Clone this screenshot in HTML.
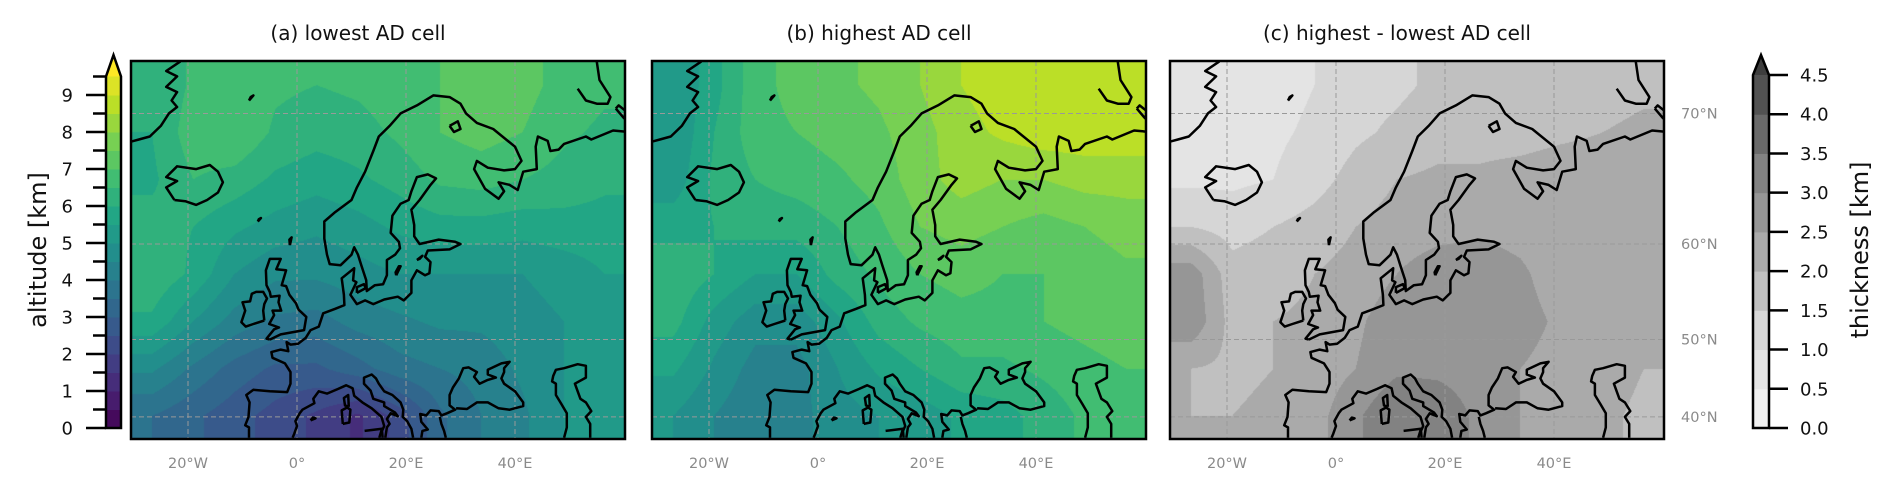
<!DOCTYPE html>
<html><head><meta charset="utf-8">
<style>
html,body{margin:0;padding:0;background:#fff;}
body{width:1892px;height:489px;position:relative;overflow:hidden;font-family:"DejaVu Sans","Liberation Sans",sans-serif;}
canvas{position:absolute;}
svg{position:absolute;left:0;top:0;font-family:"DejaVu Sans","Liberation Sans",sans-serif;}
</style></head>
<body>
<canvas id="ca" width="494" height="378" style="left:131px;top:61px"></canvas>
<canvas id="cb" width="494" height="378" style="left:652px;top:61px"></canvas>
<canvas id="cc" width="494" height="378" style="left:1170px;top:61px"></canvas>
<svg id="s" width="1892" height="489"></svg>
<script>
// ---- data: gridded field values (rows top->bottom, cols west->east) ----
const fieldA = [
[6.0,6.6,7.0,6.6,6.5,6.6,6.8,7.0,7.4,7.2,6.8,6.6],
[6.0,6.8,7.0,6.4,6.2,6.3,6.6,7.0,7.2,7.0,6.6,6.4],
[5.9,6.5,6.3,5.9,5.7,5.9,6.2,6.6,6.7,6.5,6.3,6.1],
[6.2,6.0,5.6,5.3,5.1,5.3,5.6,5.8,5.8,5.7,5.8,5.8],
[6.4,5.9,5.0,4.6,4.6,4.8,5.0,5.0,5.0,5.0,5.2,5.5],
[5.9,5.0,4.3,3.9,3.8,4.2,4.4,4.6,4.6,4.8,5.0,5.4],
[4.6,3.9,3.3,2.9,2.9,3.3,3.8,4.0,4.2,4.6,5.0,5.4],
[3.5,3.1,2.7,2.3,1.9,1.4,2.2,3.4,4.0,4.4,5.0,5.2]];
const fieldB = [
[5.0,5.8,6.8,7.2,7.4,7.6,8.0,8.5,8.8,8.8,8.8,8.8],
[5.0,6.0,6.8,7.0,7.2,7.4,7.8,8.3,8.6,8.8,8.8,8.8],
[5.2,6.1,6.5,6.7,6.9,7.2,7.8,8.2,8.0,8.0,8.2,8.2],
[5.8,6.0,6.2,6.2,6.5,6.9,7.5,7.7,7.5,7.3,7.5,7.7],
[6.4,6.0,5.5,5.5,6.2,6.6,7.0,7.2,7.0,7.0,7.2,7.4],
[6.2,5.3,4.7,4.7,5.4,6.2,6.6,6.8,6.8,7.0,7.2,7.4],
[5.6,4.9,4.3,4.3,5.0,5.6,6.0,6.4,6.4,6.6,6.8,7.0],
[5.0,4.5,4.1,4.3,4.8,5.0,5.2,5.6,5.8,6.2,6.6,6.8]];
const fieldC = [
[0.6,0.7,0.8,1.0,1.3,1.4,1.6,1.7,1.6,1.7,1.8,1.9],
[0.7,0.8,0.9,1.1,1.4,1.6,1.8,1.8,1.8,1.9,2.0,2.1],
[0.9,0.9,1.0,1.3,1.7,2.0,2.1,2.1,2.2,2.3,2.3,2.3],
[1.5,1.3,1.5,1.7,2.0,2.2,2.3,2.4,2.3,2.1,2.1,2.3],
[2.8,1.7,1.8,2.0,2.2,2.5,2.8,2.8,2.6,2.2,2.1,2.2],
[2.9,1.8,2.0,2.1,2.4,2.8,2.9,2.9,2.7,2.4,2.2,2.1],
[2.0,1.9,2.0,2.2,2.5,2.9,2.9,2.8,2.5,2.3,2.2,2.0],
[2.0,2.0,2.1,2.3,2.9,3.5,3.3,2.9,2.5,2.3,2.1,1.9]];
const altTicks = [0,1,2,3,4,5,6,7,8,9];
const thkTicks = ["0.0","0.5","1.0","1.5","2.0","2.5","3.0","3.5","4.0","4.5"];
const lonTicks = [-20,0,20,40];
const lonLabels = ["20°W","0°","20°E","40°E"];
const latTicks = [40,50,60,70];
const latLabels = ["40°N","50°N","60°N","70°N"];
const titles = ["(a) lowest AD cell","(b) highest AD cell","(c) highest - lowest AD cell"];

const coasts = [
"-8.8,37 -8.8,38.5 -9.5,38.8 -8.9,40 -8.7,42 -9.3,43 -8,43.7 -5,43.5 -1.8,43.4 -1.2,44.5 -1.2,46 -2.2,47.1 -4.5,47.8 -4.7,48.5 -3,48.8 -1.6,48.6 -1.9,49.7 -1.2,49.4 0.2,49.5 1.6,50.2 2.5,51.1 4,51.5 4.8,53 7,53.5 8.7,53.9 8.6,55 8.2,56.7 10.5,57.7 10.3,56.5 10.9,56.3 9.8,55 11,54 12.5,54.4 14,54 16,54.5 18.5,54.8 19.6,54.4 21,55.2 21,56.5 22,57.5 23.5,57 24.3,57.2 24.5,58.3 23.5,58.8 24,59.4 28,59.5 30,60 29,60.2 26,60.4 22.5,60 21.5,60.7 21.5,61.7 21,63 22.5,63.8 24.5,65 25.5,65.5 24,65.8 22,65.6 21,64.5 20.5,63.8 19,63.5 17.5,62.5 17.2,61 18.7,60.2 18.9,59.6 18,59 16.5,58.5 16.5,57 15.8,56.1 14.3,56 12.8,55.4 12.7,56.5 11.8,58 11.2,59 10.5,59.7 10,59 8,58 6,58.1 5.5,59 5,60.5 5,62 7,62.8 10,63.8 11,64.8 12.5,66 14,67.5 15,68.5 17,69.2 19,70 22,70.5 25,71.1 28,71 30,70.6 31,70 33,69.4 36,69 40,67.8 41.2,66.8 40,66.2 38,66.1 35,66.3 33,66.8 32.5,66.2 34.5,64.7 37,63.9 38,64.5 37,65.2 39,65 40.5,64.6 41.5,66 44,66.2 43.8,67.8 44.2,68.5 46,68.2 46.5,67.5 48,67.6 49,68 53,68.5 54,68.3 56,68.6 58,68.9 61,68.8",
"-0.8,37 -0.5,37.6 0,38.7 -0.3,39.4 0.5,40.5 1,41 3.2,41.9 3,42.5 4,43.5 5.5,43.2 7.5,43.8 9,44.3 10.2,43.9 10.5,42.9 12,42 13.7,41.2 15.5,40 16,38.7 15.6,38 15.7,37",
"16.2,37 16.5,38.5 17,39 16.5,39.7 17.2,40.5 18.5,40.1 18,40.6 16,41.5 16,42 14,42.5 13.5,43.6 12.3,44.5 12.3,45.3 13.7,45.7 14.5,45.2 15,44.5 16,43.5 17.5,43 19,42 19.5,41 19.4,40 20.2,39.4 21,38.3 21.3,37",
"22.8,37 23,38 24,38.2 22.8,39.3 22.6,40.4 23.7,40.2 24.5,40.9 26,40.8 26.5,40.2 27.5,40.5 29,41 28,41.6 28,43 28.6,44 29.7,45.2 30.5,46.5 31.5,46.6 33,46 32.5,45.4 33.5,44.5 35,45 36.5,45.3 35,45.7 35,46.3 37.5,47.1 39,47.3 38,46.5 38,46 37.5,45.2 38,44.5 40,43.5 41.5,42 41.5,41.5 39,41 37,41.2 35,42 33,42 31.2,41.1 29.2,41.2",
"26.2,40 26.5,39 27,38 27.3,37",
"49,37 49.5,38.5 49.5,40.5 48.5,41.8 47.5,43 47.5,44.5 46.8,44.8 47,45.5 47.5,46.3 49,46.5 51.5,47 53,46.8 53,45.3 51,44.5 52,42.5 53,42 54,40.8 53,40 53.8,39 53.8,37",
"-5,50 -3,50.6 1.3,51.1 1.7,52.6 0.3,53.4 -0.2,54.1 -1.4,55 -2,55.9 -2.8,56 -2,57.5 -3.8,57.6 -3,58.6 -5,58.6 -5.7,57.5 -5.6,56 -5,55.3 -4.8,54.8 -3.2,54.9 -3.4,54.2 -2.9,53.3 -4.5,53.3 -4.2,52.8 -5.1,51.8 -3.3,51.4 -4.2,51.2 -5.6,50.1 -5,50",
"-6,52.2 -6.2,53.3 -6,54 -5.5,54.6 -6.2,55.3 -7.5,55.3 -8.3,55.1 -8.6,54.3 -10,54.2 -9.5,53.3 -10.2,52 -9.4,51.5 -8,51.8 -6,52.2",
"-22.5,63.8 -24,64.8 -22,65.3 -24,65.6 -22,66.4 -18.5,66.2 -16,66.5 -14.5,66 -13.6,65.2 -14.5,64.4 -16.5,63.8 -18.5,63.4 -20.5,63.7 -22.5,63.8",
"-32,68 -29,68.3 -27,68.5 -25,69.2 -23.5,70 -22,70.4 -23,70.8 -22,71.3 -24,71.6 -22,72.2 -24,72.5 -21.5,73 -22,74.5",
"51.5,71.5 53,70.8 55,70.6 57,70.6 57.5,71 55.5,72 55,73 54.5,74.5",
"58.5,70.3 60,69.7 60.5,70.1 59,70.5 58.5,70.3",
"9.5,41.4 9.4,43 8.6,42.6 8.8,41.6 9.5,41.4",
"8.4,39 9.6,39.2 9.8,41 9.2,41.3 8.2,40.9 8.4,39",
"12.4,38 15.6,38.3 15.1,37",
"18.2,57 19,57.9 18.7,57.9 18.1,57.3 18.2,57",
"11,55.2 12.6,55.7 12.3,56.1 11,55.8 11,55.2",
"2.5,39.5 3.4,39.8 2.9,39.9 2.5,39.5",
"-8.8,70.8 -8,71.1 -8.5,71 -8.8,70.8",
"-7.2,62 -6.6,62.3 -7,62.2 -7.2,62",
"-1.3,59.9 -1,60.6 -1.4,60.4 -1.3,59.9",
"22,58.5 23,58.9 22.5,58.6 22,58.5",
"28,69.2 29.5,69.5 30,69 28.8,68.8 28,69.2"
];

// ---- projection (Mercator) ----
const PW=494, PH=378, PTOP=61;
const panelsX=[131,652,1170];
function merc(lat){return Math.log(Math.tan(Math.PI/4+lat*Math.PI/360));}
const K=312, X0=166, PXDEG=5.45;
function px(lon){return X0+lon*PXDEG;}
function py(lat){return 183-K*(merc(lat)-merc(60));}

// ---- colormaps ----
const vir=[[68,1,84],[72,36,117],[65,68,135],[53,95,141],[42,120,142],[33,145,140],[34,168,132],[68,191,112],[122,209,81],[189,223,38],[253,231,37]];
function viridis(t){t=Math.max(0,Math.min(1,t));const f=t*10,i=Math.min(9,Math.floor(f)),r=f-i;return vir[i].map((c,k)=>Math.round(c+(vir[i+1][k]-c)*r));}
function altColor(v){let lvl=Math.floor(v/0.5);lvl=Math.max(0,Math.min(19,lvl));return viridis((lvl+0.5)/19.5);}
const greys=[[240,240,240],[228,228,228],[214,214,214],[192,192,192],[170,170,170],[150,150,150],[130,130,130],[106,106,106],[82,82,82],[62,62,62]];
function thkColor(v){let lvl=Math.floor(v/0.5);lvl=Math.max(0,Math.min(9,lvl));return greys[lvl];}

function sample(f,x,y){
  const R=f.length,C=f[0].length;
  let gx=x/PW*C-0.5, gy=y/PH*R-0.5;
  gx=Math.max(0,Math.min(C-1,gx)); gy=Math.max(0,Math.min(R-1,gy));
  const i=Math.min(C-2,Math.floor(gx)), j=Math.min(R-2,Math.floor(gy));
  const a=gx-i,b=gy-j;
  return f[j][i]*(1-a)*(1-b)+f[j][i+1]*a*(1-b)+f[j+1][i]*(1-a)*b+f[j+1][i+1]*a*b;
}
function paint(id,f,cm){
  const c=document.getElementById(id).getContext('2d');
  const img=c.createImageData(PW,PH);
  for(let y=0;y<PH;y++)for(let x=0;x<PW;x++){
    const col=cm(sample(f,x,y));
    const o=(y*PW+x)*4;img.data[o]=col[0];img.data[o+1]=col[1];img.data[o+2]=col[2];img.data[o+3]=255;
  }
  c.putImageData(img,0,0);
}
paint('ca',fieldA,altColor);
paint('cb',fieldB,altColor);
paint('cc',fieldC,thkColor);

// ---- svg overlay ----
const NS='http://www.w3.org/2000/svg';
const svg=document.getElementById('s');
function el(tag,attrs,parent){const e=document.createElementNS(NS,tag);for(const k in attrs)e.setAttribute(k,attrs[k]);(parent||svg).appendChild(e);return e;}
const defs=el('defs',{});
const cp=el('clipPath',{id:'clip'},defs);
el('rect',{x:0,y:0,width:PW,height:PH},cp);

panelsX.forEach((L,p)=>{
  const g=el('g',{transform:`translate(${L},${PTOP})`});
  
  
  const inner=el('g',{'clip-path':'url(#clip)'},g);
  lonTicks.forEach(lon=>{const l=el('line',{x1:px(lon),x2:px(lon),y1:0,y2:PH,stroke:'#999','stroke-width':1,'stroke-dasharray':'5,3'},inner);
    });
  latTicks.forEach(lat=>{const l=el('line',{x1:0,x2:PW,y1:py(lat),y2:py(lat),stroke:'#999','stroke-width':1,'stroke-dasharray':'5,3'},inner);
    });
  coasts.forEach(s=>{
    const pts=s.split(' ').map(q=>{const [lo,la]=q.split(',').map(Number);return px(lo).toFixed(1)+','+py(la).toFixed(1);}).join(' ');
    const pl=el('polyline',{points:pts,fill:'none',stroke:'#000','stroke-width':2.5,'stroke-linejoin':'round'},inner);
    
  });
  const fr=el('rect',{x:0,y:0,width:PW,height:PH,fill:'none',stroke:'#000','stroke-width':2.5},g);
  
  lonTicks.forEach((lon,i)=>{const t=el('text',{x:L+px(lon),y:468,'text-anchor':'middle','font-size':14.5,fill:'#8a8a8a'});t.textContent=lonLabels[i];
    });
  const tt=el('text',{x:L+PW/2-20,y:40,'text-anchor':'middle','font-size':20,fill:'#111'});tt.textContent=titles[p];
  
});
latTicks.forEach((lat,i)=>{const t=el('text',{x:1681,y:PTOP+py(lat)+5,'font-size':14.5,fill:'#8a8a8a'});t.textContent=latLabels[i];
  });

// left colorbar (altitude)
(function(){
  const x0=106,w=15,y0=428,ppk=(428-95)/9;
  const g=el('g',{});
  for(let i=0;i<19;i++){const c=viridis((i+0.5)/19.5);el('rect',{x:x0,y:y0-(i+1)*0.5*ppk,width:w,height:0.5*ppk+0.5,fill:`rgb(${c})`},g);}
  const top=y0-9.5*ppk;const c=viridis(1);
  el('polygon',{points:`${x0},${top} ${x0+w/2},55 ${x0+w},${top}`,fill:`rgb(${c})`},g);
  el('path',{d:`M${x0},${y0} L${x0},${top} L${x0+w/2},55 L${x0+w},${top} L${x0+w},${y0} Z`,fill:'none',stroke:'#000','stroke-width':2.5},g);
  for(let v=0;v<=9.5;v+=0.5){const y=y0-v*ppk;el('line',{x1:v%1===0?86:93,x2:x0,y1:y,y2:y,stroke:'#000','stroke-width':2.5},g);}
  altTicks.forEach(v=>{const t=el('text',{x:73,y:y0-v*ppk+6.5,'text-anchor':'end','font-size':18,fill:'#111'},g);t.textContent=v;
    });
  const lab=el('text',{x:0,y:0,transform:'translate(46,250) rotate(-90)','text-anchor':'middle','font-size':24,fill:'#111'});lab.textContent='altitude [km]';
  
})();
// right colorbar (thickness)
(function(){
  const x0=1753,w=16,y0=428,ppk=(428-75)/4.5;
  const g=el('g',{});
  for(let i=0;i<9;i++){const c=greys[i];el('rect',{x:x0,y:y0-(i+1)*0.5*ppk,width:w,height:0.5*ppk+0.5,fill:`rgb(${c})`},g);}
  const top=y0-4.5*ppk;
  el('polygon',{points:`${x0},${top} ${x0+w/2},55 ${x0+w},${top}`,fill:'rgb(62,62,62)'},g);
  el('path',{d:`M${x0},${y0} L${x0},${top} L${x0+w/2},55 L${x0+w},${top} L${x0+w},${y0} Z`,fill:'none',stroke:'#000','stroke-width':2.5},g);
  thkTicks.forEach((s,i)=>{const y=y0-i*0.5*ppk;el('line',{x1:x0+w,x2:1788,y1:y,y2:y,stroke:'#000','stroke-width':2.5},g);
    const t=el('text',{x:1800,y:y+6.5,'font-size':18,fill:'#111'},g);t.textContent=s;
    });
  const lab=el('text',{x:0,y:0,transform:'translate(1868,250) rotate(-90)','text-anchor':'middle','font-size':24,fill:'#111'});lab.textContent='thickness [km]';
  
})();
</script>
</body></html>
